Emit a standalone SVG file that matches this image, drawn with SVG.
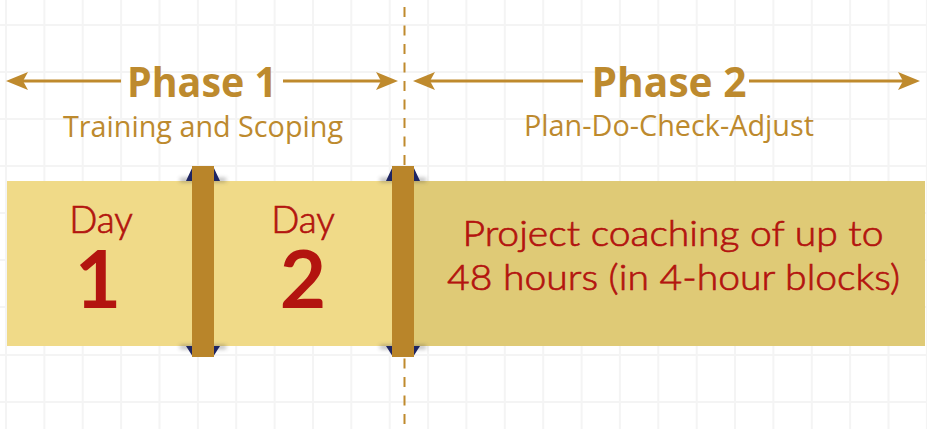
<svg xmlns="http://www.w3.org/2000/svg" width="927" height="429" viewBox="0 0 927 429">
<style>
.grid line{stroke:#f4f4f4;stroke-width:2}
.arrow{stroke:#bf8a2d;stroke-width:3;fill:none}
.head{fill:#bf8a2d}
.phase{font-family:"Open Sans",sans-serif;font-weight:700;font-size:42px;fill:#bd8a2e;text-anchor:middle}
.sub{font-family:"Open Sans",sans-serif;font-size:29px;fill:#bd8a2e;text-anchor:middle}
.day{font-family:Lato,"Open Sans",sans-serif;font-weight:300;font-size:37px;fill:#b3140f;stroke:#b3140f;stroke-width:0.7;text-anchor:middle}
.num{font-family:Lato,"Open Sans",sans-serif;font-weight:700;font-size:80px;fill:#b3140f;text-anchor:middle}
.body{font-family:Lato,"Open Sans",sans-serif;font-weight:300;font-size:36px;fill:#b3140f;stroke:#b3140f;stroke-width:0.7;text-anchor:middle}
.bar{fill:#b9852a}
.tri{fill:#1e2563}
</style>
<defs>
<marker id="ah" markerUnits="userSpaceOnUse" markerWidth="24" markerHeight="20" viewBox="0 -10 24 20" refX="5" refY="0" orient="auto-start-reverse">
<path class="head" d="M22,0 L0,-9 L5,0 L0,9 Z"/>
</marker>
<filter id="sh" x="-50%" y="-50%" width="200%" height="200%"><feGaussianBlur stdDeviation="2"/></filter>
</defs>
<rect width="927" height="429" fill="#ffffff"/>
<g class="grid">
<line x1="6" y1="0" x2="6" y2="429"/><line x1="44.4" y1="0" x2="44.4" y2="429"/><line x1="82.7" y1="0" x2="82.7" y2="429"/><line x1="121.1" y1="0" x2="121.1" y2="429"/><line x1="159.5" y1="0" x2="159.5" y2="429"/><line x1="197.9" y1="0" x2="197.9" y2="429"/><line x1="236.2" y1="0" x2="236.2" y2="429"/><line x1="274.6" y1="0" x2="274.6" y2="429"/><line x1="313" y1="0" x2="313" y2="429"/><line x1="351.3" y1="0" x2="351.3" y2="429"/><line x1="389.7" y1="0" x2="389.7" y2="429"/><line x1="428.1" y1="0" x2="428.1" y2="429"/><line x1="466.4" y1="0" x2="466.4" y2="429"/><line x1="504.8" y1="0" x2="504.8" y2="429"/><line x1="543.2" y1="0" x2="543.2" y2="429"/><line x1="581.6" y1="0" x2="581.6" y2="429"/><line x1="619.9" y1="0" x2="619.9" y2="429"/><line x1="658.3" y1="0" x2="658.3" y2="429"/><line x1="696.7" y1="0" x2="696.7" y2="429"/><line x1="735" y1="0" x2="735" y2="429"/><line x1="773.4" y1="0" x2="773.4" y2="429"/><line x1="811.8" y1="0" x2="811.8" y2="429"/><line x1="850.1" y1="0" x2="850.1" y2="429"/><line x1="888.5" y1="0" x2="888.5" y2="429"/><line x1="926.9" y1="0" x2="926.9" y2="429"/>
<line x1="0" y1="25" x2="927" y2="25"/><line x1="0" y1="72" x2="927" y2="72"/><line x1="0" y1="119" x2="927" y2="119"/><line x1="0" y1="166" x2="927" y2="166"/><line x1="0" y1="213" x2="927" y2="213"/><line x1="0" y1="260" x2="927" y2="260"/><line x1="0" y1="307" x2="927" y2="307"/><line x1="0" y1="355" x2="927" y2="355"/><line x1="0" y1="402" x2="927" y2="402"/>
</g>
<g id="connectors">
<line x1="404.5" y1="7" x2="404.5" y2="429" stroke="#bf8a2d" stroke-width="2" stroke-dasharray="10 8.5"/>
<line class="arrow" x1="23" y1="81" x2="121" y2="81" marker-start="url(#ah)"/>
<line class="arrow" x1="283" y1="81" x2="381" y2="81" marker-end="url(#ah)"/>
<line class="arrow" x1="430" y1="81" x2="583" y2="81" marker-start="url(#ah)"/>
<line class="arrow" x1="749" y1="81" x2="903" y2="81" marker-end="url(#ah)"/>
</g>
<g id="phase1">
<text class="phase" x="202" y="97" textLength="150" lengthAdjust="spacingAndGlyphs">Phase 1</text>
<text class="sub" x="203" y="137" textLength="280" lengthAdjust="spacingAndGlyphs">Training and Scoping</text>
</g>
<g id="phase2">
<text class="phase" x="669" y="97" textLength="155" lengthAdjust="spacingAndGlyphs">Phase 2</text>
<text class="sub" x="669" y="136" textLength="290" lengthAdjust="spacingAndGlyphs">Plan-Do-Check-Adjust</text>
</g>
<g id="day1">
<rect x="7" y="181" width="187" height="165" fill="#f0da88"/>
<text class="day" x="101" y="233">Day</text>
<text class="num" x="98" y="308">1</text>
</g>
<g id="day2">
<rect x="212" y="181" width="194" height="165" fill="#f0da88"/>
<text class="day" x="303" y="233">Day</text>
<text class="num" x="303" y="308">2</text>
</g>
<g id="coaching">
<rect x="404" y="181" width="521" height="165" fill="#dfca76"/>
<text class="body" x="673" y="246" textLength="421" lengthAdjust="spacingAndGlyphs">Project coaching of up to</text>
<text class="body" x="673.5" y="290" textLength="453" lengthAdjust="spacingAndGlyphs">48 hours (in 4-hour blocks)</text>
</g>
<g id="bar1">
<g filter="url(#sh)" fill="#444" opacity="0.4"><rect x="180" y="178" width="46" height="4"/><rect x="180" y="345" width="46" height="4"/></g>
<path class="tri" d="M193,166 L193,181 L186,181 Z"/>
<path class="tri" d="M213,166 L213,181 L220,181 Z"/>
<path class="tri" d="M193,357 L193,346 L186,346 Z"/>
<path class="tri" d="M213,357 L213,346 L220,346 Z"/>
<rect class="bar" x="192" y="166" width="22" height="191"/>
</g>
<g id="bar2">
<g filter="url(#sh)" fill="#444" opacity="0.4"><rect x="380" y="178" width="46" height="4"/><rect x="380" y="345" width="46" height="4"/></g>
<path class="tri" d="M393,166 L393,181 L386,181 Z"/>
<path class="tri" d="M413,166 L413,181 L420,181 Z"/>
<path class="tri" d="M393,357 L393,346 L386,346 Z"/>
<path class="tri" d="M413,357 L413,346 L420,346 Z"/>
<rect class="bar" x="392" y="166" width="22" height="191"/>
</g>
</svg>
